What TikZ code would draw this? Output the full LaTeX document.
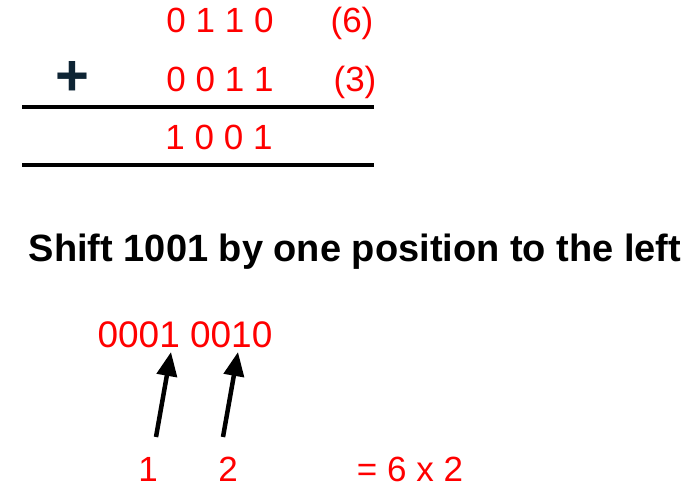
\documentclass[tikz,border=0pt]{standalone}
\usepackage{fontspec}
\setmainfont{Liberation Sans}
\usetikzlibrary{arrows.meta,positioning}

\definecolor{digitred}{RGB}{255,0,0}
\definecolor{plusblue}{RGB}{14,36,52}

\begin{document}
\begin{tikzpicture}[x=1pt, y=-1pt, >={Triangle[width=20pt,length=24pt]},
    bits/.style={text=digitred, font=\fontsize{35}{40}\selectfont, inner sep=0pt, anchor=base},
    bigbits/.style={text=digitred, font=\fontsize{37}{42}\selectfont, inner sep=0pt, anchor=base},
    rule/.style={line width=4pt},
    shiftarrow/.style={line width=4.5pt, ->}]
    \useasboundingbox (0,0) rectangle (696,494);

    % Nodes {addends, sum}
    \node [bits] 		(a) at (220,33) 	{0 1 1 0};
    \node [bits] 		(av) at (352,33) 	{(6)};
    \node [bits] 		(b) at (220,92) 	{0 0 1 1};
    \node [bits] 		(bv) at (355,92) 	{(3)};
    \node [text=plusblue, font=\bfseries\fontsize{58}{62}\selectfont, inner sep=0pt] (plus) at (72,78) {+};
    \node [bits] 		(s) at (219,150) 	{1 0 0 1};

    % Rules
    \draw [rule] 	(22,107) coordinate (r1) -- (374,107);
    \draw [rule] 	(22,165) coordinate (r2) -- (374,165);

    % Caption
    \node [font=\bfseries\fontsize{38}{43}\selectfont, inner sep=0pt, anchor=base] (cap) at (355,262) {Shift 1001 by one position to the left};

    % Nodes {shifted, positions}
    \node [bigbits] 	(sh) at (185,347) 	{0001 0010};
    \node [bits] 		(p1) at (148,481) 	{1};
    \node [bits] 		(p2) at (228,481) 	{2};
    \node [bits] 		(eq) at (410,481) 	{= 6 x 2};

    % Paths
    \coordinate (t1) at (156,437);
    \coordinate (h1) at (171,352);
    \coordinate (t2) at (223,437);
    \coordinate (h2) at (238,352);
    \draw [shiftarrow] 	(t1) -- (h1);
    \draw [shiftarrow] 	(t2) -- (h2);
\end{tikzpicture}
\end{document}
